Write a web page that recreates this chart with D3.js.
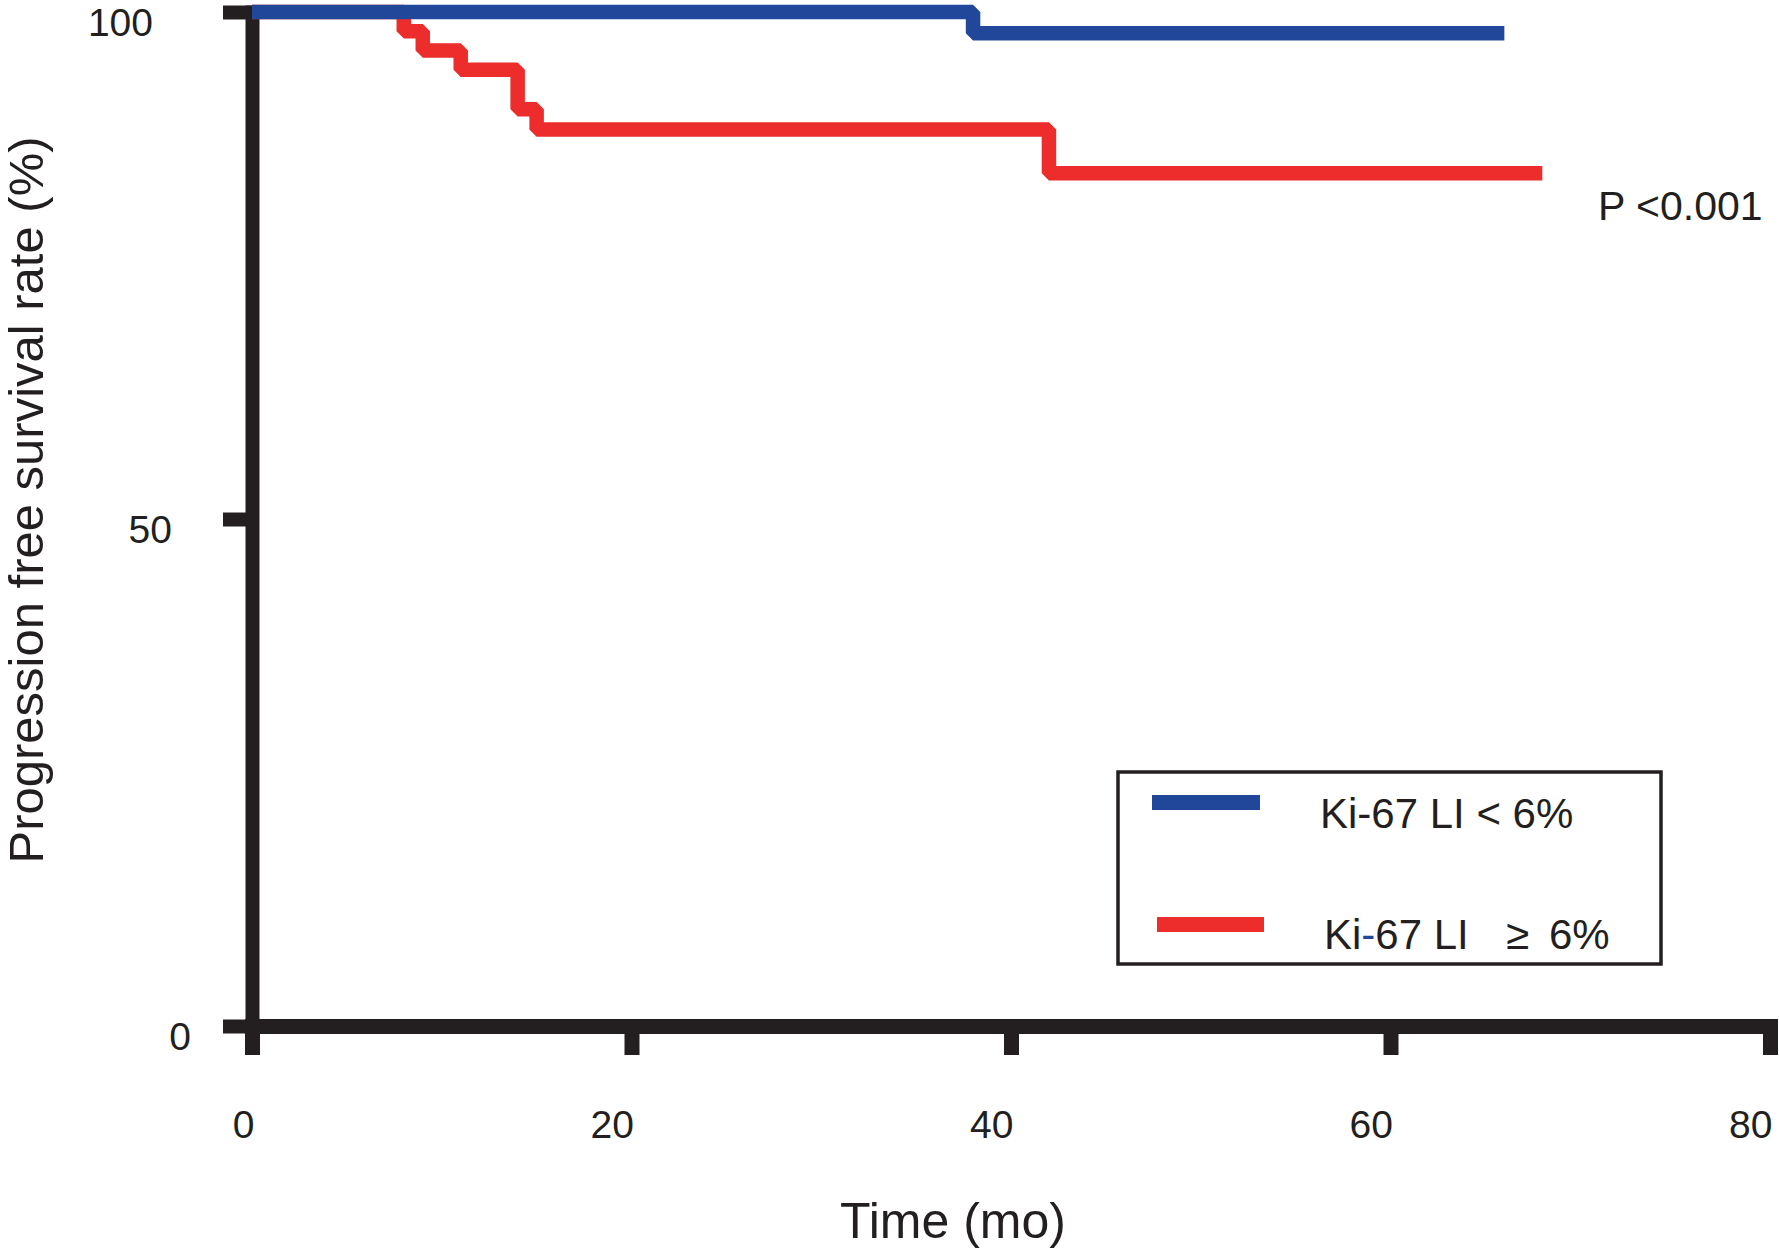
<!DOCTYPE html>
<html lang="en">

<head>
    <meta charset="UTF-8">
    <title>Progression free survival by Ki-67 LI</title>
    <script src="https://d3js.org/d3.v7.min.js"></script>
    <style>
        body {
            margin: 0;
            background: #fff;
        }

        text {
            font-family: "Liberation Sans", Arial, sans-serif;
            fill: #231f20;
        }

        .curve {
            fill: none;
            stroke-width: 14.5px;
            stroke-linejoin: bevel;
            stroke-linecap: butt;
        }
    </style>
</head>

<body>
    <script>

        // Kaplan-Meier steps (months, % progression free)
        var lowTimes = [0, 38, 66];
        var lowSurv = [100, 97.9, 97.9];

        var highTimes = [0, 8, 9, 11, 14, 15, 42, 68];
        var highSurv = [100, 98.1, 96.2, 94.3, 90.4, 88.4, 84.1, 84.1];

        var xTicks = [0, 20, 40, 60, 80];
        var yTicks = [0, 50, 100];

        var seriesNames = ["Ki-67 LI < 6%", "Ki-67 LI \u2265 6%"];
        var seriesColors = ["#21479b", "#ec2d2b"];
        var pLabel = "P <0.001";

        var axisColor = "#231f20";

        // Set up SVG
        var width = 1779,
            height = 1249;

        var svg = d3.select("body")
            .append("svg")
            .attr("width", width)
            .attr("height", height);

        // Set up scales
        var x = d3.scaleLinear().domain([0, 80]).range([252, 1770]);
        var y = d3.scaleLinear().domain([0, 100]).range([1026, 12]);

        // the y tick labels sit on a slant in the original
        var yLabelEnd = d3.scaleLinear().domain([0, 100]).range([191, 153]);

        // Y axis
        var yAxis = svg.append("g")
            .attr("transform", "translate(" + x(0) + ",0)")
            .call(d3.axisLeft(y).tickValues(yTicks).tickSize(29).tickSizeOuter(0).tickFormat(d3.format("d")));

        yAxis.select(".domain")
            .attr("stroke", axisColor)
            .attr("stroke-width", 14)
            .attr("stroke-linecap", "square");

        yAxis.selectAll(".tick line")
            .attr("stroke", axisColor)
            .attr("stroke-width", 14);

        yAxis.selectAll(".tick text")
            .attr("x", function (d) { return yLabelEnd(d) - x(0); })
            .attr("y", 23.5)
            .attr("dy", null)
            .attr("fill", axisColor)
            .style("font-size", "39px")
            .style("font-family", "'Liberation Sans', Arial, sans-serif");

        // X axis
        var xAxis = svg.append("g")
            .attr("transform", "translate(0," + y(0) + ")")
            .call(d3.axisBottom(x).tickValues(xTicks).tickSize(29).tickSizeOuter(0).tickFormat(d3.format("d")));

        xAxis.select(".domain")
            .attr("stroke", axisColor)
            .attr("stroke-width", 15)
            .attr("stroke-linecap", "square");

        xAxis.selectAll(".tick line")
            .attr("stroke", axisColor)
            .attr("stroke-width", 15);

        xAxis.selectAll(".tick text")
            .attr("x", 2)
            .attr("y", 112)
            .attr("dy", null)
            .attr("text-anchor", "end")
            .attr("fill", axisColor)
            .style("font-size", "39px")
            .style("font-family", "'Liberation Sans', Arial, sans-serif");

        // Step curves
        var step = d3.line()
            .x(function (d) { return x(d[0]); })
            .y(function (d) { return y(d[1]); })
            .curve(d3.curveStepAfter);

        var highData = d3.zip(highTimes, highSurv);
        var lowData = d3.zip(lowTimes, lowSurv);

        // red first, blue over it
        svg.append("path")
            .datum(highData)
            .attr("class", "curve")
            .style("stroke", seriesColors[1])
            .attr("d", step);

        svg.append("path")
            .datum(lowData)
            .attr("class", "curve")
            .style("stroke", seriesColors[0])
            .attr("d", step);

        // P value
        svg.append("text")
            .attr("x", 1598)
            .attr("y", 220)
            .style("font-size", "41px")
            .text(pLabel);

        // Axis titles
        svg.append("text")
            .attr("x", 953)
            .attr("y", 1238)
            .attr("text-anchor", "middle")
            .style("font-size", "50px")
            .text("Time (mo)");

        svg.append("text")
            .attr("transform", "translate(43,500) rotate(-90)")
            .attr("text-anchor", "middle")
            .style("font-size", "49px")
            .text("Progression free survival rate (%)");

        // Legend
        var legend = svg.append("g");

        legend.append("rect")
            .attr("x", 1118)
            .attr("y", 772)
            .attr("width", 543)
            .attr("height", 192)
            .attr("fill", "none")
            .attr("stroke", axisColor)
            .attr("stroke-width", 3.5);

        legend.append("line")
            .attr("x1", 1152).attr("x2", 1260)
            .attr("y1", 802.5).attr("y2", 802.5)
            .attr("stroke", seriesColors[0])
            .attr("stroke-width", 15);

        legend.append("line")
            .attr("x1", 1157).attr("x2", 1264)
            .attr("y1", 924.5).attr("y2", 924.5)
            .attr("stroke", seriesColors[1])
            .attr("stroke-width", 15);

        legend.append("text")
            .attr("x", 1320)
            .attr("y", 828)
            .style("font-size", "42px")
            .text(seriesNames[0]);

        // second entry: the hyphen is blue and the sign sits further right
        var t2 = legend.append("text")
            .attr("x", 1324)
            .attr("y", 949)
            .style("font-size", "42px");
        t2.append("tspan").text("Ki");
        t2.append("tspan").style("fill", seriesColors[0]).text("-");
        t2.append("tspan").text("67 LI");
        t2.append("tspan").attr("x", 1506).text("\u2265");
        t2.append("tspan").attr("x", 1549).text("6%");

    </script>
</body>

</html>
